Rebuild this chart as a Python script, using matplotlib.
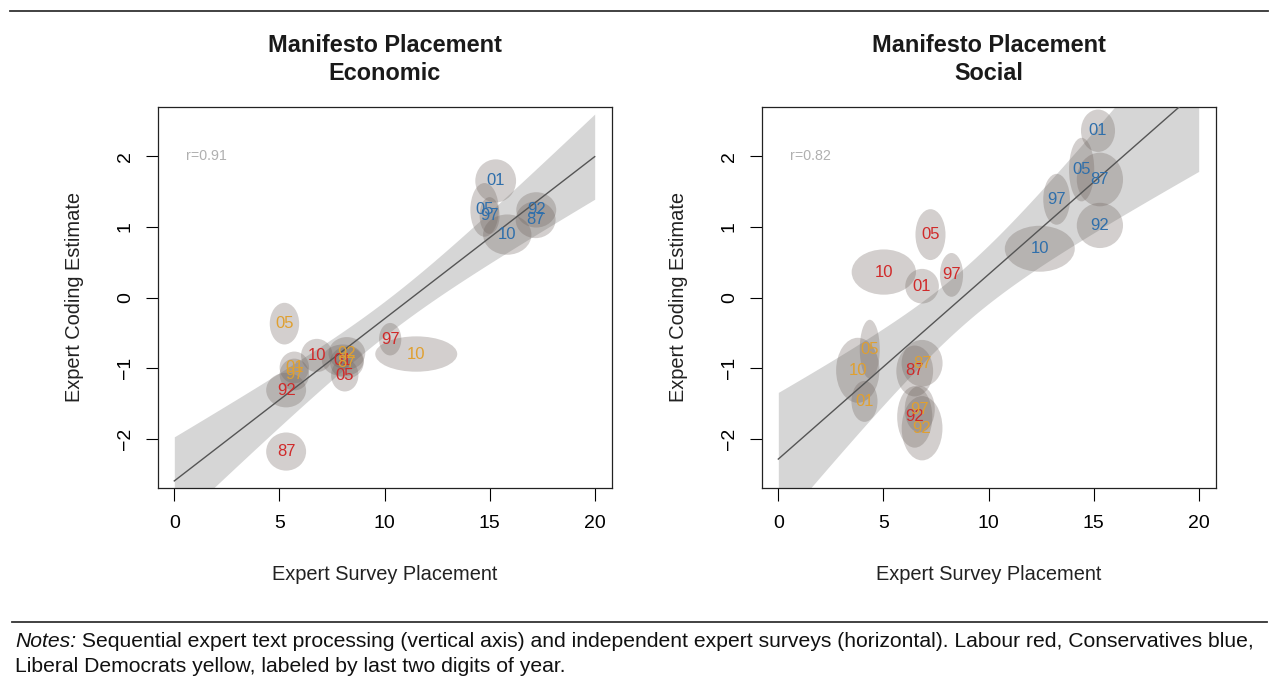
import numpy as np
import matplotlib
matplotlib.use('Agg')
import matplotlib.pyplot as plt
from matplotlib.patches import Ellipse
from matplotlib.lines import Line2D

plt.rcParams['font.family'] = ['Liberation Sans', 'DejaVu Sans']

# Data; year order for every list below
years = ['87', '92', '97', '01', '05', '10']
parties = ['Labour', 'Conservatives', 'Liberal Democrats']
party_colors = ['#d02a2a', '#2f6fab', '#e0a030']

# Economic panel: label positions and ellipse sizes, one list per party
econ_x = [[5.32, 5.32, 10.27, 8.02, 8.11, 6.78],
          [17.19, 17.22, 15.00, 15.29, 14.76, 15.84],
          [8.21, 8.21, 5.71, 5.71, 5.24, 11.51]]
econ_y = [[-2.18, -1.31, -0.59, -0.89, -1.10, -0.82],
          [1.10, 1.24, 1.16, 1.65, 1.24, 0.89],
          [-0.92, -0.79, -1.09, -0.99, -0.37, -0.80]]
econ_w = [[1.9, 1.9, 1.06, 2.0, 1.3, 1.5],
          [1.9, 1.9, 0.95, 1.94, 1.35, 2.3],
          [1.6, 1.75, 1.4, 1.4, 1.4, 3.9]]
econ_h = [[0.54, 0.49, 0.46, 0.45, 0.46, 0.47],
          [0.52, 0.50, 0.52, 0.61, 0.76, 0.57],
          [0.45, 0.46, 0.45, 0.45, 0.59, 0.50]]

# Social panel
soc_x = [[6.49, 6.49, 8.24, 6.84, 7.24, 5.02],
         [15.30, 15.30, 13.24, 15.21, 14.43, 12.44],
         [6.84, 6.84, 6.73, 4.10, 4.35, 3.78]]
soc_y = [[-1.04, -1.69, 0.32, 0.16, 0.89, 0.36],
         [1.67, 1.02, 1.39, 2.36, 1.81, 0.69],
         [-0.93, -1.85, -1.58, -1.47, -0.73, -1.03]]
soc_w = [[1.75, 1.67, 1.1, 1.6, 1.43, 3.06],
         [2.2, 2.2, 1.27, 1.62, 1.2, 3.33],
         [1.95, 1.94, 1.43, 1.24, 0.95, 2.06]]
soc_h = [[0.72, 0.87, 0.62, 0.49, 0.72, 0.64],
         [0.76, 0.64, 0.72, 0.60, 0.90, 0.65],
         [0.66, 0.91, 0.66, 0.58, 0.83, 0.92]]

titles = ['Manifesto Placement\nEconomic', 'Manifesto Placement\nSocial']
r_labels = ['r=0.91', 'r=0.82']
xticks = [0, 5, 10, 15, 20]
yticks = [-2, -1, 0, 1, 2]

notes_it = 'Notes:'
notes_1 = (' Sequential expert text processing (vertical axis) and independent expert '
           'surveys (horizontal). Labour red, Conservatives blue,')
notes_2 = 'Liberal Democrats yellow, labeled by last two digits of year.'

W, H = 1278, 681
fig = plt.figure(figsize=(W / 100, H / 100), dpi=100)

panels = [(econ_x, econ_y, econ_w, econ_h), (soc_x, soc_y, soc_w, soc_h)]
lefts = [157.5, 761.5]
T_CRIT = 2.12  # t(0.975, df=16)

for k, (px, py, pw, ph) in enumerate(panels):
    l = lefts[k]
    ax = fig.add_axes([l / W, (H - 488.3) / H, 454 / W, 381.6 / H])
    ax.set_xlim(-0.8, 20.8)
    ax.set_ylim(-2.7, 2.7)

    # regression line with confidence band, fit to the labelled points
    xs = np.concatenate(px)
    ys = np.concatenate(py)
    b, a = np.polyfit(xs, ys, 1)
    n = len(xs)
    s = np.sqrt(np.sum((ys - (a + b * xs)) ** 2) / (n - 2))
    sxx = np.sum((xs - xs.mean()) ** 2)
    grid = np.linspace(0, 20, 200)
    fit = a + b * grid
    half = T_CRIT * s * np.sqrt(1 / n + (grid - xs.mean()) ** 2 / sxx)
    ax.fill_between(grid, fit - half, fit + half, color='#d6d6d6', lw=0, zorder=1)

    for p in range(3):
        for i in range(len(years)):
            e = Ellipse((px[p][i], py[p][i]), pw[p][i], ph[p][i],
                        facecolor='#6e625d', alpha=0.3, lw=0, zorder=2)
            ax.add_patch(e)
    ax.plot(grid, fit, color='#555555', lw=1, zorder=3)
    for p in range(3):
        for i in range(len(years)):
            ax.text(px[p][i], py[p][i], years[i], color=party_colors[p],
                    fontsize=12, ha='center', va='center', zorder=4)

    ax.text(1.55, 2.0, r_labels[k], color='#b0b0b0', fontsize=10.3,
            ha='center', va='center')

    ax.set_xticks(xticks)
    ax.set_yticks(yticks)
    ax.tick_params(axis='both', length=9, width=0.8, labelsize=14, direction='out')
    ax.tick_params(axis='x', pad=10)
    ax.tick_params(axis='y', pad=8, labelrotation=90)
    for lab in ax.get_yticklabels():
        lab.set_va('center')
    for sp in ax.spines.values():
        sp.set_linewidth(0.9)
        sp.set_color('#222222')

    cx = (l + 227) / W
    t1, t2 = titles[k].split('\n')
    fig.text(cx, 1 - 52 / H, t1, fontsize=16.9, fontweight='bold',
             ha='center', va='baseline', color='#1a1a1a')
    fig.text(cx, 1 - 80 / H, t2, fontsize=16.9, fontweight='bold',
             ha='center', va='baseline', color='#1a1a1a')
    fig.text(cx, 1 - 574 / H, 'Expert Survey Placement', fontsize=14.4,
             ha='center', va='center', color='#222222')
    fig.text((l - 82.5) / W, 1 - 297 / H, 'Expert Coding Estimate', fontsize=14.4,
             ha='center', va='center', rotation=90, color='#222222')

# horizontal rules
fig.add_artist(Line2D([10 / W, 1268 / W], [1 - 11 / H, 1 - 11 / H], color='#333333', lw=1.3))
fig.add_artist(Line2D([12 / W, 1267 / W], [1 - 622 / H, 1 - 622 / H], color='#333333', lw=1.3))

# notes with italic lead-in
t = fig.text(15 / W, 1 - 647 / H, notes_it, fontsize=15.2, style='italic',
             ha='left', va='baseline', color='#111111')
renderer = fig.canvas.get_renderer()
bb = t.get_window_extent(renderer=renderer)
fig.text(bb.x1 / W, 1 - 647 / H, notes_1, fontsize=15.2, ha='left', va='baseline',
         color='#111111')
fig.text(15 / W, 1 - 672 / H, notes_2, fontsize=15.2, ha='left', va='baseline',
         color='#111111')

fig.savefig('out.png', dpi=100)
